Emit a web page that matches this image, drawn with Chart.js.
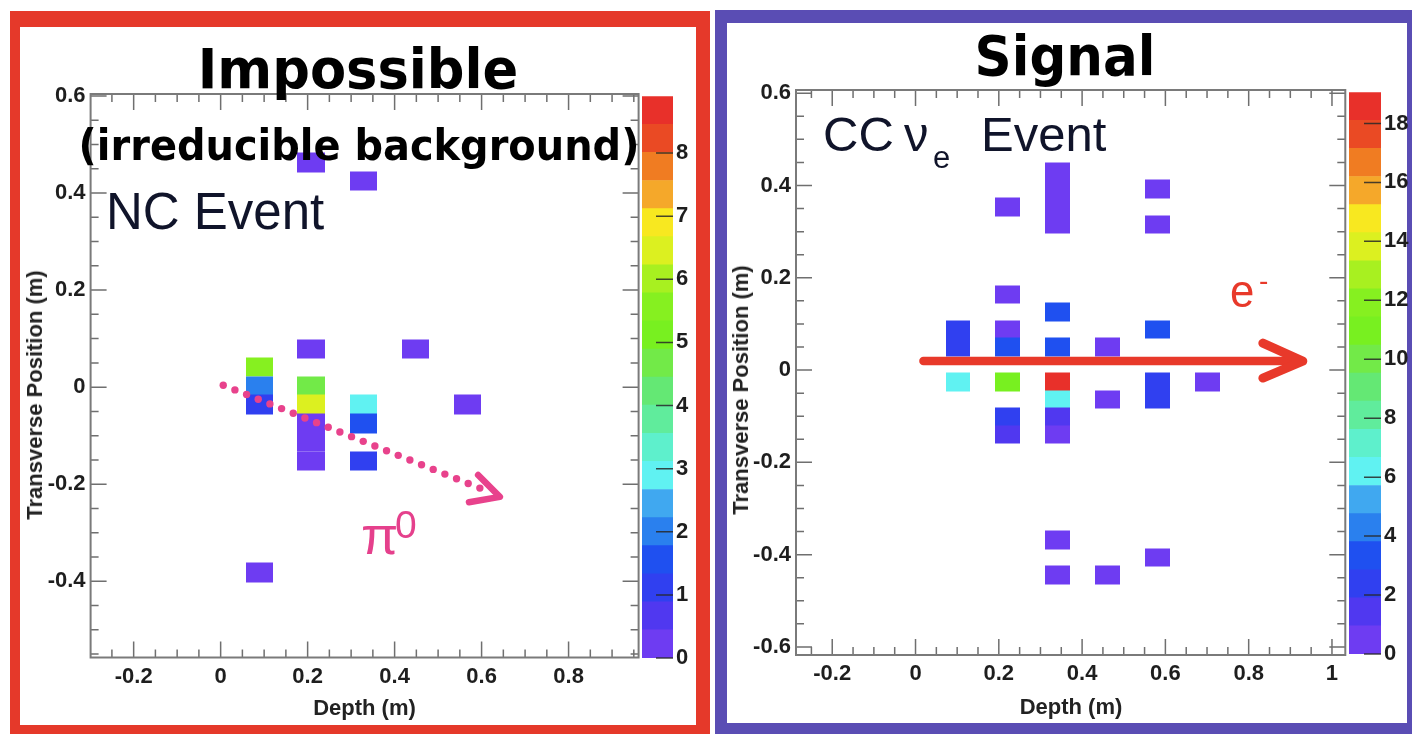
<!DOCTYPE html>
<html>
<head>
<meta charset="utf-8">
<script src="https://cdn.jsdelivr.net/npm/chart.js@4.4.1/dist/chart.umd.min.js"></script>
<style>
  html, body { margin: 0; padding: 0; background: #fff; }
  body { width: 1412px; height: 734px; position: relative; overflow: hidden;
         font-family: 'Liberation Sans', Arial, sans-serif; }
  .panel { position: absolute; box-sizing: border-box; border-style: solid; }
  #panelNC { left: 10px; top: 11px; width: 700px; height: 723px;
             border-color: #e5392a; border-width: 16px 14px 9px 10px; }
  #panelCC { left: 715px; top: 10px; width: 697px; height: 724px;
             border-color: #5a4db4; border-width: 13px 5px 11px 12px; }
  canvas { position: absolute; }
  .t { position: absolute; white-space: nowrap; line-height: 1; }
  .head { font-family: 'DejaVu Sans', sans-serif; font-weight: bold; color: #000; }
  .axt { font-weight: bold; font-size: 22px; color: #222; }
</style>
</head>
<body>
<div class="panel" id="panelNC"></div>
<div class="panel" id="panelCC"></div>

<canvas id="nc" width="706" height="734" style="left:0;top:0;width:706px;height:734px"></canvas>
<canvas id="ncScale" width="70" height="600" style="left:636px;top:80px;width:70px;height:600px"></canvas>
<canvas id="cc" width="701" height="734" style="left:711px;top:0;width:701px;height:734px"></canvas>
<canvas id="ccScale" width="69" height="600" style="left:1343px;top:76px;width:69px;height:600px"></canvas>

<!-- headings -->
<div class="t head" style="font-size:56px;left:358px;top:40.6px;transform:translateX(-50%) scaleX(0.94)">Impossible</div>
<div class="t head" style="font-size:42px;left:359px;top:124.5px;transform:translateX(-50%) scaleX(0.95)">(irreducible background)</div>
<div class="t head" style="font-size:56px;left:1065px;top:27.6px;transform:translateX(-50%) scaleX(0.92)">Signal</div>

<!-- event labels -->
<div class="t" style="font-size:51px;left:106px;top:185.8px;color:#10142a">NC Event</div>
<div class="t" style="font-size:49px;left:823px;top:110.2px;color:#10142a">CC</div>
<div class="t" style="font-size:49px;left:904px;top:110.2px;color:#10142a">ν</div>
<div class="t" style="font-size:31px;left:933px;top:141.8px;color:#10142a">e</div>
<div class="t" style="font-size:49px;left:981px;top:110.2px;color:#10142a">Event</div>

<!-- particle labels -->
<div class="t" style="font-size:54px;left:361px;top:508px;color:#e5408c">π</div>
<div class="t" style="font-size:39px;left:395px;top:505px;color:#e5408c">0</div>
<div class="t" style="font-size:46px;left:1230px;top:268px;color:#e8392a;transform:scaleX(0.95);transform-origin:left">e</div>
<div class="t" style="font-size:28px;left:1259px;top:267px;color:#e8392a">-</div>

<!-- axis titles -->
<div class="t axt" style="left:364.5px;top:697.4px;transform:translateX(-50%)">Depth (m)</div>
<div class="t axt" style="left:1071px;top:696.4px;transform:translateX(-50%)">Depth (m)</div>
<div class="t axt" style="left:35px;top:395px;transform:translate(-50%,-50%) rotate(-90deg)">Transverse Position (m)</div>
<div class="t axt" style="left:741px;top:390px;transform:translate(-50%,-50%) rotate(-90deg)">Transverse Position (m)</div>

<script>
const FONT = "'Liberation Sans', Arial, sans-serif";

// Colour scale: 20 contour bands, violet -> red
const contourCount = 20;
const palette = ['#6e3cf2', '#5038f0', '#3040f0', '#1f50f0', '#2a80ee',
                 '#40a8f0', '#60f2f2', '#5ef0cc', '#60ec9c', '#64e874',
                 '#72ea48', '#78f020', '#86f020', '#a8f020', '#dcf020',
                 '#f8e820', '#f5a82a', '#f07c22', '#ea4a24', '#e8302a'];

// ---- NC event (left view) ----
const depthRangeNC = [-0.299, 0.961];
const transRangeNC = [-0.557, 0.604];
const depthTicksNC = [-0.2, 0, 0.2, 0.4, 0.6, 0.8];
const transTicksNC = [-0.4, -0.2, 0, 0.2, 0.4, 0.6];
const zMaxNC = 8.9;
const zTicksNC = [0, 1, 2, 3, 4, 5, 6, 7, 8];
const cellNC = [0.063, 0.038];
const hitDepthNC  = [0.089, 0.089, 0.089, 0.089, 0.208, 0.208, 0.208, 0.208, 0.208, 0.208, 0.208, 0.328, 0.328, 0.328, 0.328, 0.448, 0.568];
const hitTransNC  = [0.041, 0.002, -0.036, -0.382, 0.463, 0.079, 0.002, -0.036, -0.075, -0.113, -0.152, 0.425, -0.036, -0.075, -0.152, 0.079, -0.036];
const hitEnergyNC = [5.6, 2.0, 1.1, 0.2, 0.2, 0.2, 4.5, 6.4, 0.2, 0.2, 0.2, 0.2, 2.9, 1.6, 1.3, 0.2, 0.2];

// ---- CC nu_e event (right view) ----
const depthRangeCC = [-0.287, 1.032];
const transRangeCC = [-0.6175, 0.607];
const depthTicksCC = [-0.2, 0, 0.2, 0.4, 0.6, 0.8, 1];
const transTicksCC = [-0.6, -0.4, -0.2, 0, 0.2, 0.4, 0.6];
const zMaxCC = 19.06;
const zTicksCC = [0, 2, 4, 6, 8, 10, 12, 14, 16, 18];
const cellCC = [0.060, 0.038];
const hitDepthCC  = [0.102, 0.102, 0.102,
                     0.222, 0.222, 0.222, 0.222, 0.222, 0.222, 0.222,
                     0.342, 0.342, 0.342, 0.342, 0.342, 0.342, 0.342, 0.342, 0.342, 0.342, 0.342, 0.342,
                     0.462, 0.462, 0.462,
                     0.582, 0.582, 0.582, 0.582, 0.582, 0.582,
                     0.702];
const hitTransCC  = [0.088, 0.050, -0.026,
                     0.354, 0.164, 0.088, 0.050, -0.026, -0.102, -0.140,
                     0.430, 0.392, 0.354, 0.316, 0.126, 0.050, -0.026, -0.064, -0.102, -0.140, -0.368, -0.444,
                     0.050, -0.064, -0.444,
                     0.392, 0.316, 0.088, -0.026, -0.064, -0.406,
                     -0.026];
const hitEnergyCC = [2.3, 2.3, 6.2,
                     0.5, 0.5, 0.5, 3.3, 10.5, 2.3, 1.0,
                     0.5, 0.5, 0.5, 0.5, 3.4, 3.4, 18.6, 6.3, 1.3, 0.7, 0.6, 0.6,
                     0.6, 0.6, 0.6,
                     0.6, 0.6, 3.4, 2.4, 2.4, 0.6,
                     0.6];

// Track annotations (in detector coordinates)
const pi0Trail = { start: [0.006, 0.004], end: [0.596, -0.208],
                   tip: [0.642, -0.226], armA: [0.592, -0.181], armB: [0.571, -0.237] };
const electronArrow = { start: [0.019, 0.0195], tip: [0.930, 0.0195],
                        armA: [0.834, 0.0585], armB: [0.834, -0.0173] };

const tickFont = { family: FONT, size: 22, weight: 'bold' };
const fmt = v => String(Math.round(v * 10) / 10);

function bandOf(v, zMax) {
  return Math.max(0, Math.min(contourCount - 1, Math.floor(v / zMax * contourCount)));
}

// Hit cells, drawn as rectangles through the chart scales (edges snapped so neighbours join)
const cellPlugin = {
  id: 'cells',
  beforeDatasetsDraw(chart) {
    const { ctx, chartArea: a, scales: { x, y } } = chart;
    ctx.save();
    ctx.beginPath(); ctx.rect(a.left, a.top, a.width, a.height); ctx.clip();
    chart.data.datasets.forEach(ds => {
      const [w, h] = ds.cell;
      ds.data.forEach(p => {
        const x0 = Math.round(x.getPixelForValue(p.x - w / 2)), x1 = Math.round(x.getPixelForValue(p.x + w / 2));
        const y0 = Math.round(y.getPixelForValue(p.y + h / 2)), y1 = Math.round(y.getPixelForValue(p.y - h / 2));
        ctx.fillStyle = palette[bandOf(p.v, ds.zMax)];
        ctx.fillRect(x0, y0 - 0.5, x1 - x0, y1 - y0 + 1);
      });
    });
    ctx.restore();
  }
};

// ROOT-style frame with inward major and minor ticks on all four sides
const framePlugin = {
  id: 'frame',
  afterDatasetsDraw(chart) {
    const { ctx, chartArea: a, scales: { x, y } } = chart;
    const minorStep = 0.05, majorLen = 16, minorLen = 8;
    const isMajor = (v, sc) => sc.ticks.some(t => Math.abs(t.value - v) < 1e-6);
    ctx.save();
    ctx.strokeStyle = '#6f6f6f';
    ctx.lineWidth = 1.5;
    ctx.beginPath();
    for (let i = Math.ceil(x.min / minorStep - 1e-6); i * minorStep <= x.max + 1e-9; i++) {
      const v = i * minorStep, px = x.getPixelForValue(v);
      const len = isMajor(v, x) ? majorLen : minorLen;
      ctx.moveTo(px, a.bottom); ctx.lineTo(px, a.bottom - len);
      ctx.moveTo(px, a.top); ctx.lineTo(px, a.top + len);
    }
    for (let i = Math.ceil(y.min / minorStep - 1e-6); i * minorStep <= y.max + 1e-9; i++) {
      const v = i * minorStep, py = y.getPixelForValue(v);
      const len = isMajor(v, y) ? majorLen : minorLen;
      ctx.moveTo(a.left, py); ctx.lineTo(a.left + len, py);
      ctx.moveTo(a.right, py); ctx.lineTo(a.right - len, py);
    }
    ctx.stroke();
    ctx.strokeStyle = '#7a7a7a';
    ctx.lineWidth = 2;
    ctx.strokeRect(a.left, a.top, a.width, a.height);
    ctx.restore();
  }
};

function px(chart, p) {
  return [chart.scales.x.getPixelForValue(p[0]), chart.scales.y.getPixelForValue(p[1])];
}

// Dotted pi0 trail with an open arrow head
const pi0Plugin = {
  id: 'pi0Trail',
  afterDraw(chart) {
    const { ctx } = chart;
    const [sx, sy] = px(chart, pi0Trail.start), [ex, ey] = px(chart, pi0Trail.end);
    const len = Math.hypot(ex - sx, ey - sy), n = Math.round(len / 12.4);
    ctx.save();
    ctx.fillStyle = '#e8428c';
    for (let i = 0; i <= n; i++) {
      const f = i / n;
      ctx.beginPath();
      ctx.arc(sx + (ex - sx) * f, sy + (ey - sy) * f, 3.7, 0, Math.PI * 2);
      ctx.fill();
    }
    const [ax, ay] = px(chart, pi0Trail.armA), [tx, ty] = px(chart, pi0Trail.tip), [bx, by] = px(chart, pi0Trail.armB);
    ctx.strokeStyle = '#e8428c';
    ctx.lineWidth = 6.5; ctx.lineCap = 'round'; ctx.lineJoin = 'round';
    ctx.beginPath(); ctx.moveTo(ax, ay); ctx.lineTo(tx, ty); ctx.lineTo(bx, by); ctx.stroke();
    ctx.restore();
  }
};

// Solid electron arrow
const electronPlugin = {
  id: 'electronArrow',
  afterDraw(chart) {
    const { ctx } = chart;
    const [sx, sy] = px(chart, electronArrow.start), [tx, ty] = px(chart, electronArrow.tip);
    const [ax, ay] = px(chart, electronArrow.armA), [bx, by] = px(chart, electronArrow.armB);
    ctx.save();
    ctx.strokeStyle = '#e8392a';
    ctx.lineCap = 'round'; ctx.lineJoin = 'round';
    ctx.lineWidth = 8.5;
    ctx.beginPath(); ctx.moveTo(sx, sy); ctx.lineTo(tx - 4, ty); ctx.stroke();
    ctx.lineWidth = 9;
    ctx.beginPath(); ctx.moveTo(ax, ay); ctx.lineTo(tx, ty); ctx.lineTo(bx, by); ctx.stroke();
    ctx.restore();
  }
};

function axis(range, ticks, pad, fit) {
  return {
    type: 'linear', min: range[0], max: range[1],
    afterBuildTicks: s => { s.ticks = ticks.map(v => ({ value: v })); },
    afterFit: fit,
    grid: { display: false, drawTicks: false },
    border: { display: false },
    ticks: { padding: pad, font: tickFont, color: '#1e1e1e', autoSkip: false,
             maxRotation: 0, includeBounds: false, callback: fmt }
  };
}

function eventView(id, g, extraPlugin) {
  const data = g.depth.map((d, i) => ({ x: d, y: g.trans[i], v: g.energy[i] }));
  return new Chart(document.getElementById(id), {
    type: 'scatter',
    data: { datasets: [{ data, pointRadius: 0, cell: g.cell, zMax: g.zMax }] },
    options: {
      responsive: false, animation: false, events: [],
      layout: { padding: g.padding },
      plugins: { legend: { display: false }, tooltip: { enabled: false } },
      scales: {
        x: axis(g.xRange, g.xTicks, 6, s => { s.height = g.xAxisH; }),
        y: axis(g.yRange, g.yTicks, 5, s => { s.width = g.yAxisW; })
      }
    },
    plugins: [cellPlugin, framePlugin, extraPlugin]
  });
}

// Colour bar: one floating bar per contour band
const zTickPlugin = {
  id: 'zTicks',
  afterDraw(chart) {
    const { ctx, chartArea: a, scales: { y } } = chart;
    ctx.save();
    ctx.strokeStyle = 'rgba(40,40,40,0.85)';
    ctx.lineWidth = 1.5;
    ctx.beginPath();
    y.ticks.forEach(t => {
      const py = y.getPixelForValue(t.value);
      ctx.moveTo(a.right - 17, py); ctx.lineTo(a.right, py);
    });
    ctx.stroke();
    ctx.restore();
  }
};

function colourBar(id, zMax, zTicks, padding, axisW) {
  const datasets = palette.map((c, i) => ({
    data: [[zMax * i / contourCount, zMax * (i + 1) / contourCount]],
    backgroundColor: c, borderWidth: 0, grouped: false,
    barPercentage: 1, categoryPercentage: 1
  }));
  return new Chart(document.getElementById(id), {
    type: 'bar',
    data: { labels: [''], datasets },
    options: {
      responsive: false, animation: false, events: [],
      layout: { padding },
      plugins: { legend: { display: false }, tooltip: { enabled: false } },
      scales: {
        x: { display: false },
        y: {
          position: 'right', min: 0, max: zMax,
          afterBuildTicks: s => { s.ticks = zTicks.map(v => ({ value: v })); },
          afterFit: s => { s.width = axisW; },
          grid: { display: false, drawTicks: false },
          border: { display: false },
          ticks: { padding: 3, font: tickFont, color: '#1e1e1e', autoSkip: false, includeBounds: false }
        }
      }
    },
    plugins: [zTickPlugin]
  });
}

eventView('nc', {
  depth: hitDepthNC, trans: hitTransNC, energy: hitEnergyNC,
  cell: cellNC, zMax: zMaxNC,
  xRange: depthRangeNC, yRange: transRangeNC, xTicks: depthTicksNC, yTicks: transTicksNC,
  padding: { left: 0, top: 94, right: 67.4, bottom: 0 }, xAxisH: 76.5, yAxisW: 90.6
}, pi0Plugin);

eventView('cc', {
  depth: hitDepthCC, trans: hitTransCC, energy: hitEnergyCC,
  cell: cellCC, zMax: zMaxCC,
  xRange: depthRangeCC, yRange: transRangeCC, xTicks: depthTicksCC, yTicks: transTicksCC,
  padding: { left: 0, top: 90, right: 66.7, bottom: 0 }, xAxisH: 79, yAxisW: 85
}, electronPlugin);

colourBar('ncScale', zMaxNC, zTicksNC, { left: 6, top: 14.5, right: 0, bottom: 22 }, 33);
colourBar('ccScale', zMaxCC, zTicksCC, { left: 6, top: 14.7, right: 0, bottom: 22 }, 31);
</script>
</body>
</html>
